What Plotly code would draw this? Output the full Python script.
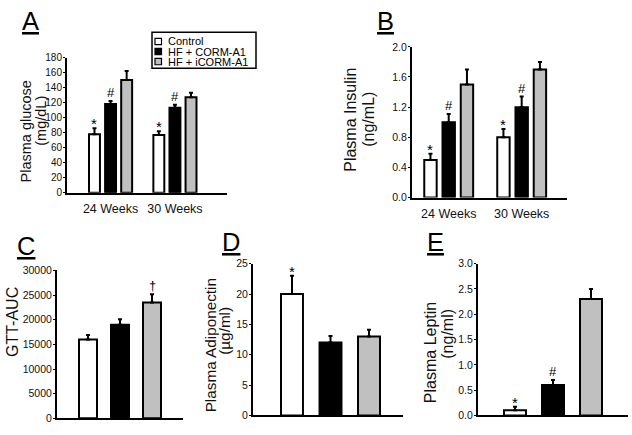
import plotly.graph_objects as go

W, H = 632, 435
FONT = "Arial, Liberation Sans, sans-serif"

# ---------------- data ----------------
groups = ["Control", "HF + CORM-A1", "HF + iCORM-A1"]
group_colors = ["#ffffff", "#000000", "#c0c0c0"]
weeks = ["24 Weeks", "30 Weeks"]

glucose = [[78, 77], [118, 113], [150, 127]]
glucose_err = [[8, 5], [4, 4], [12, 6]]
glucose_sig = [["*", "*"], ["#", "#"], ["", ""]]

insulin = [[0.5, 0.8], [1.0, 1.2], [1.5, 1.7]]
insulin_err = [[0.08, 0.11], [0.11, 0.14], [0.2, 0.1]]
insulin_sig = [["*", "*"], ["#", "#"], ["", ""]]

gtt_auc = [16000, 19000, 23500]
gtt_auc_err = [900, 1100, 1700]
gtt_auc_sig = ["", "", "†"]

adiponectin = [20, 12, 13]
adiponectin_err = [3, 1.1, 1.1]
adiponectin_sig = ["*", "", ""]

leptin = [0.1, 0.6, 2.3]
leptin_err = [0.07, 0.1, 0.2]
leptin_sig = ["*", "#", ""]

# y ticks
glucose_ticks = list(range(0, 181, 20))
insulin_ticks = [0.0, 0.4, 0.8, 1.2, 1.6, 2.0]
gtt_ticks = list(range(0, 30001, 5000))
adipo_ticks = list(range(0, 26, 5))
leptin_ticks = [0.0, 0.5, 1.0, 1.5, 2.0, 2.5, 3.0]


def px(x):
    return x / W


def py(y):
    return 1 - y / H


fig = go.Figure()
annotations = []
shapes = []

# ---------------- grouped panels (A, B) ----------------
grp_centers = [-0.25, 0.0, 0.25]
grp_width = 0.17


def sig_font(s):
    return dict(family=FONT, size=15 if s == "*" else 13, color="black")


def grouped_panel(vals, errs, sigs, xa, ya):
    xref = "x" if xa == 1 else f"x{xa}"
    yref = "y" if ya == 1 else f"y{ya}"
    for g, name in enumerate(groups):
        xs = list(range(len(weeks)))
        fig.add_trace(go.Bar(
            x=xs, y=vals[g], name=name,
            width=[grp_width] * len(xs),
            offset=[grp_centers[g] - grp_width / 2] * len(xs),
            marker=dict(color=group_colors[g], line=dict(color="black", width=2)),
            error_y=dict(type="data", symmetric=False, array=errs[g],
                         arrayminus=[0] * len(xs), color="black",
                         thickness=2, width=2),
            xaxis=xref, yaxis=yref, showlegend=False,
        ))
        for i in range(len(weeks)):
            if sigs[g][i]:
                s = sigs[g][i]
                annotations.append(dict(
                    x=i + grp_centers[g], y=vals[g][i] + errs[g][i],
                    xref=xref, yref=yref, text=s, showarrow=False,
                    xanchor="center", yanchor="bottom",
                    yshift=-6 if s == "*" else -1, font=sig_font(s)))


def single_panel(vals, errs, sigs, xa, ya, width):
    xref = f"x{xa}"
    yref = f"y{ya}"
    xs = list(range(len(groups)))
    fig.add_trace(go.Bar(
        x=xs, y=vals, width=[width] * len(xs),
        marker=dict(color=group_colors, line=dict(color="black", width=2)),
        error_y=dict(type="data", symmetric=False, array=errs,
                     arrayminus=[0] * len(xs), color="black",
                     thickness=2, width=2),
        xaxis=xref, yaxis=yref, showlegend=False,
    ))
    for i in xs:
        if sigs[i]:
            s = sigs[i]
            annotations.append(dict(
                x=i, y=vals[i] + errs[i], xref=xref, yref=yref, text=s,
                showarrow=False, xanchor="center", yanchor="bottom",
                yshift=-6 if s == "*" else -1, font=sig_font(s)))


grouped_panel(glucose, glucose_err, glucose_sig, 1, 1)
grouped_panel(insulin, insulin_err, insulin_sig, 2, 2)
single_panel(gtt_auc, gtt_auc_err, gtt_auc_sig, 3, 3, 0.5625)
single_panel(adiponectin, adiponectin_err, adiponectin_sig, 4, 4, 0.57)
single_panel(leptin, leptin_err, leptin_sig, 5, 5, 0.58)

line_style = dict(showline=True, linecolor="black", linewidth=2,
                  showgrid=False, zeroline=False)


def yaxis(domain_px, rng, ticks, fmt, anchor, fs=10.5):
    return dict(domain=[py(domain_px[1]), py(domain_px[0])], range=rng,
                tickvals=ticks, tickformat=fmt, ticks="outside", ticklen=2,
                tickwidth=1, tickcolor="black",
                tickfont=dict(family=FONT, size=fs, color="#111111"),
                ticklabelstandoff=-1, anchor=anchor, **line_style)


def xaxis(domain_px, rng, anchor, labels=None):
    d = dict(domain=[px(domain_px[0]), px(domain_px[1])], range=rng,
             anchor=anchor, ticks="", **line_style)
    if labels:
        d.update(tickvals=list(range(len(labels))), ticktext=labels,
                 tickfont=dict(family=FONT, size=12.5, color="#111111"),
                 ticklabelstandoff=3)
    else:
        d.update(showticklabels=False)
    return d


fig.update_layout(
    xaxis=xaxis([67, 227], [-0.677, 1.809], "y", weeks),
    yaxis=yaxis([53, 192], [0, 180], glucose_ticks, "d", "x", 10),
    xaxis2=xaxis([412, 567], [-0.503, 1.621], "y2", weeks),
    yaxis2=yaxis([42, 197], [0, 2.0], insulin_ticks, ".1f", "x2"),
    xaxis3=xaxis([57, 183], [-0.969, 2.969], "y3"),
    yaxis3=yaxis([272, 424], [0, 30000], gtt_ticks, "d", "x3"),
    xaxis4=xaxis([253, 403], [-1.013, 2.883], "y4"),
    yaxis4=yaxis([265, 421], [0, 25], adipo_ticks, "d", "x4"),
    xaxis5=xaxis([478, 628], [-0.974, 2.974], "y5"),
    yaxis5=yaxis([265, 421], [0, 3.0], leptin_ticks, ".1f", "x5"),
)

# ---------------- axis titles (two lines, rotated) ----------------
titles = [
    ("Plasma glucose", 26, 129, 14.5), ("(mg/dL)", 41, 118, 14.5),
    ("Plasma Insulin", 351, 117, 16), ("(ng/mL)", 369, 117, 16),
    ("GTT-AUC", 12, 325, 16),
    ("Plasma Adiponectin", 210, 349, 15.3), ("(µg/ml)", 225, 334, 15.3),
    ("Plasma Leptin", 430, 357, 16), ("(ng/ml)", 448, 337, 16),
]
for t, x, y, fs in titles:
    annotations.append(dict(text=t, x=px(x), y=py(y), xref="paper", yref="paper",
                            showarrow=False, textangle=-90, xanchor="center",
                            yanchor="middle",
                            font=dict(family=FONT, size=fs, color="#111111")))

# ---------------- panel letters ----------------
letters = [("A", 30, 15), ("B", 385, 15), ("C", 26, 247), ("D", 231, 243), ("E", 435, 243)]
for t, x, y in letters:
    annotations.append(dict(text=f"<u>{t}</u>", x=px(x), y=py(y), xref="paper",
                            yref="paper", showarrow=False, xanchor="center",
                            yanchor="middle",
                            font=dict(family=FONT, size=25.5, color="black")))

# ---------------- legend (drawn manually for tight spacing) ----------------
shapes.append(dict(type="rect", xref="paper", yref="paper",
                   x0=px(152), x1=px(256), y0=py(64), y1=py(27),
                   line=dict(color="black", width=1.5), fillcolor="white"))
for g, name in enumerate(groups):
    cy = 36.5 + 10.3 * g
    shapes.append(dict(type="rect", xref="paper", yref="paper",
                       x0=px(155), x1=px(161.5), y0=py(cy + 3.3), y1=py(cy - 3.3),
                       line=dict(color="black", width=1.2),
                       fillcolor=group_colors[g]))
    annotations.append(dict(text=name, x=px(165.5), y=py(cy), xref="paper",
                            yref="paper", showarrow=False, xanchor="left",
                            yanchor="middle",
                            font=dict(family=FONT, size=11, color="black")))

fig.update_layout(
    width=W, height=H, autosize=False,
    margin=dict(l=0, r=0, t=0, b=0),
    paper_bgcolor="white", plot_bgcolor="white",
    barmode="overlay", showlegend=False,
    annotations=annotations, shapes=shapes,
)

fig.write_html("out.html", config={"displayModeBar": False},
               post_script="document.body.style.margin='0';document.body.style.padding='0';")
